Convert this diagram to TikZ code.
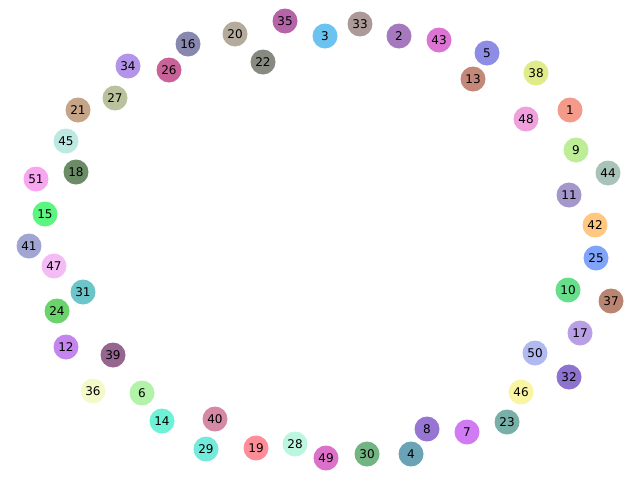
\documentclass[tikz,border=0pt]{standalone}
\usepackage{fontspec}
\setmainfont{DejaVu Sans}
\begin{document}
\begin{tikzpicture}[x=1pt,y=-1pt,
  nd/.style={circle,minimum size=25pt,inner sep=0pt,draw=none,font=\fontsize{12}{12}\selectfont,text=black}]
\useasboundingbox (0,0) rectangle (640,480);
\def\N#1#2#3#4{\definecolor{c#1}{HTML}{#4}\node[nd,fill=c#1] (n#1) at (#2,#3) {#1};}
\N{35}{285}{21}{B565A7}
\N{3}{325}{36}{6CC3F0}
\N{33}{360}{24}{AC9A98}
\N{2}{399}{36}{A678BE}
\N{43}{439}{40}{DB74D2}
\N{5}{487}{53}{8D8DE6}
\N{13}{473}{79}{C4887A}
\N{38}{536}{73}{E0EC8A}
\N{1}{570}{110}{F49A8A}
\N{48}{526}{119}{F0A0DC}
\N{9}{576}{150}{BDEE97}
\N{44}{608}{173}{A8C3B8}
\N{11}{569}{195}{A597CB}
\N{42}{595}{225}{FFC780}
\N{25}{596}{258}{7FA4F9}
\N{37}{611}{301}{BA8472}
\N{10}{568}{290}{66DE8B}
\N{17}{580}{333}{B9A0E6}
\N{50}{535}{353}{B0BAF0}
\N{32}{569}{377}{8E72CF}
\N{46}{521}{392}{FAF5A3}
\N{23}{507}{422}{78AFA6}
\N{7}{467}{432}{D07BF3}
\N{8}{427}{429}{9775D2}
\N{4}{411}{454}{6AA3B5}
\N{30}{367}{454}{73B582}
\N{49}{326}{458}{DC71C9}
\N{28}{295}{444}{BCF6DE}
\N{19}{256}{448}{FD8E99}
\N{29}{206}{449}{73EADB}
\N{40}{215}{419}{D689A4}
\N{14}{162}{421}{6EF2D6}
\N{6}{142}{393}{B3F3A9}
\N{36}{93}{391}{F4F9C9}
\N{39}{113}{355}{976690}
\N{12}{66}{347}{C585EF}
\N{24}{57}{311}{6AD36C}
\N{31}{83}{292}{6CC5C9}
\N{47}{54}{266}{F4BCF4}
\N{41}{29}{246}{A0A5D2}
\N{15}{45}{214}{5CF57F}
\N{51}{36}{179}{F8A6F0}
\N{18}{76}{172}{6B8C67}
\N{45}{66}{141}{BCEAE2}
\N{21}{78}{110}{C6A487}
\N{27}{115}{98}{B9C19D}
\N{34}{128}{66}{B494E8}
\N{26}{169}{70}{C86399}
\N{16}{188}{44}{8888AF}
\N{20}{235}{34}{B5AB9D}
\N{22}{263}{62}{878A80}
\end{tikzpicture}
\end{document}
